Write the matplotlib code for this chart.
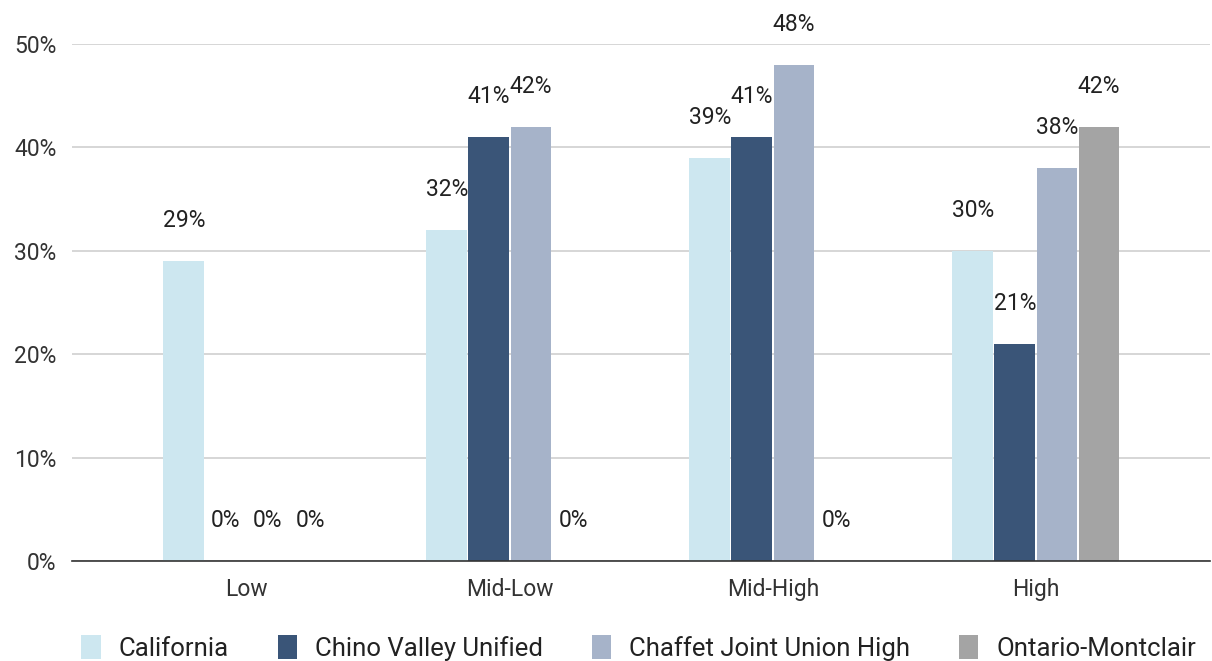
import matplotlib.pyplot as plt
import numpy as np

plt.rcParams['font.family'] = ['Roboto', 'DejaVu Sans']

categories = ['Low', 'Mid-Low', 'Mid-High', 'High']
series = ['California', 'Chino Valley Unified', 'Chaffet Joint Union High', 'Ontario-Montclair']
california = [29, 32, 39, 30]
chino_valley = [0, 41, 41, 21]
chaffet = [0, 42, 48, 38]
ontario = [0, 0, 0, 42]
values = [california, chino_valley, chaffet, ontario]
colors = ['#cde7f0', '#3a5578', '#a6b3c9', '#a4a4a4']

fig = plt.figure(figsize=(12.12, 6.61), dpi=100)
ax = fig.add_axes([72 / 1212, 1 - 561 / 661, (1210 - 72) / 1212, (561 - 44) / 661])

x = np.arange(len(categories))
step = 0.16
width = 0.155
for i, (name, vals, col) in enumerate(zip(series, values, colors)):
    pos = x + (i - 1.5) * step
    ax.bar(pos, vals, width=width, color=col, label=name, zorder=2)
    for px, v in zip(pos, vals):
        ax.annotate(f'{v}%', (px, v), xytext=(0, 29), textcoords='offset points',
                    ha='center', va='center', fontsize=16.5, color='#222222',
                    annotation_clip=False)

ax.set_xlim(-0.665, 3.662)
ax.set_ylim(0, 50)
ax.set_yticks(np.arange(0, 51, 10))
ax.set_yticklabels([f'{t}%' for t in range(0, 51, 10)])
ax.set_xticks(x)
ax.set_xticklabels(categories)
ax.tick_params(axis='both', length=0, labelsize=16.5, colors='#333333')
ax.tick_params(axis='x', pad=12)
ax.tick_params(axis='y', pad=11)
ax.yaxis.grid(True, color='#d0d0d0', linewidth=1.2, zorder=0)
for s in ['top', 'right', 'left']:
    ax.spines[s].set_visible(False)
ax.spines['bottom'].set_color('#333333')
ax.spines['bottom'].set_linewidth(1.2)
ax.spines['bottom'].set_zorder(3)

fig.legend(loc='center', bbox_to_anchor=(0.527, 0.02), ncol=4, frameon=False,
           fontsize=18.5, handlelength=0.75, handleheight=1.1, handletextpad=0.7,
           columnspacing=1.9, labelcolor='#222222')

fig.savefig('out.png', dpi=100)
